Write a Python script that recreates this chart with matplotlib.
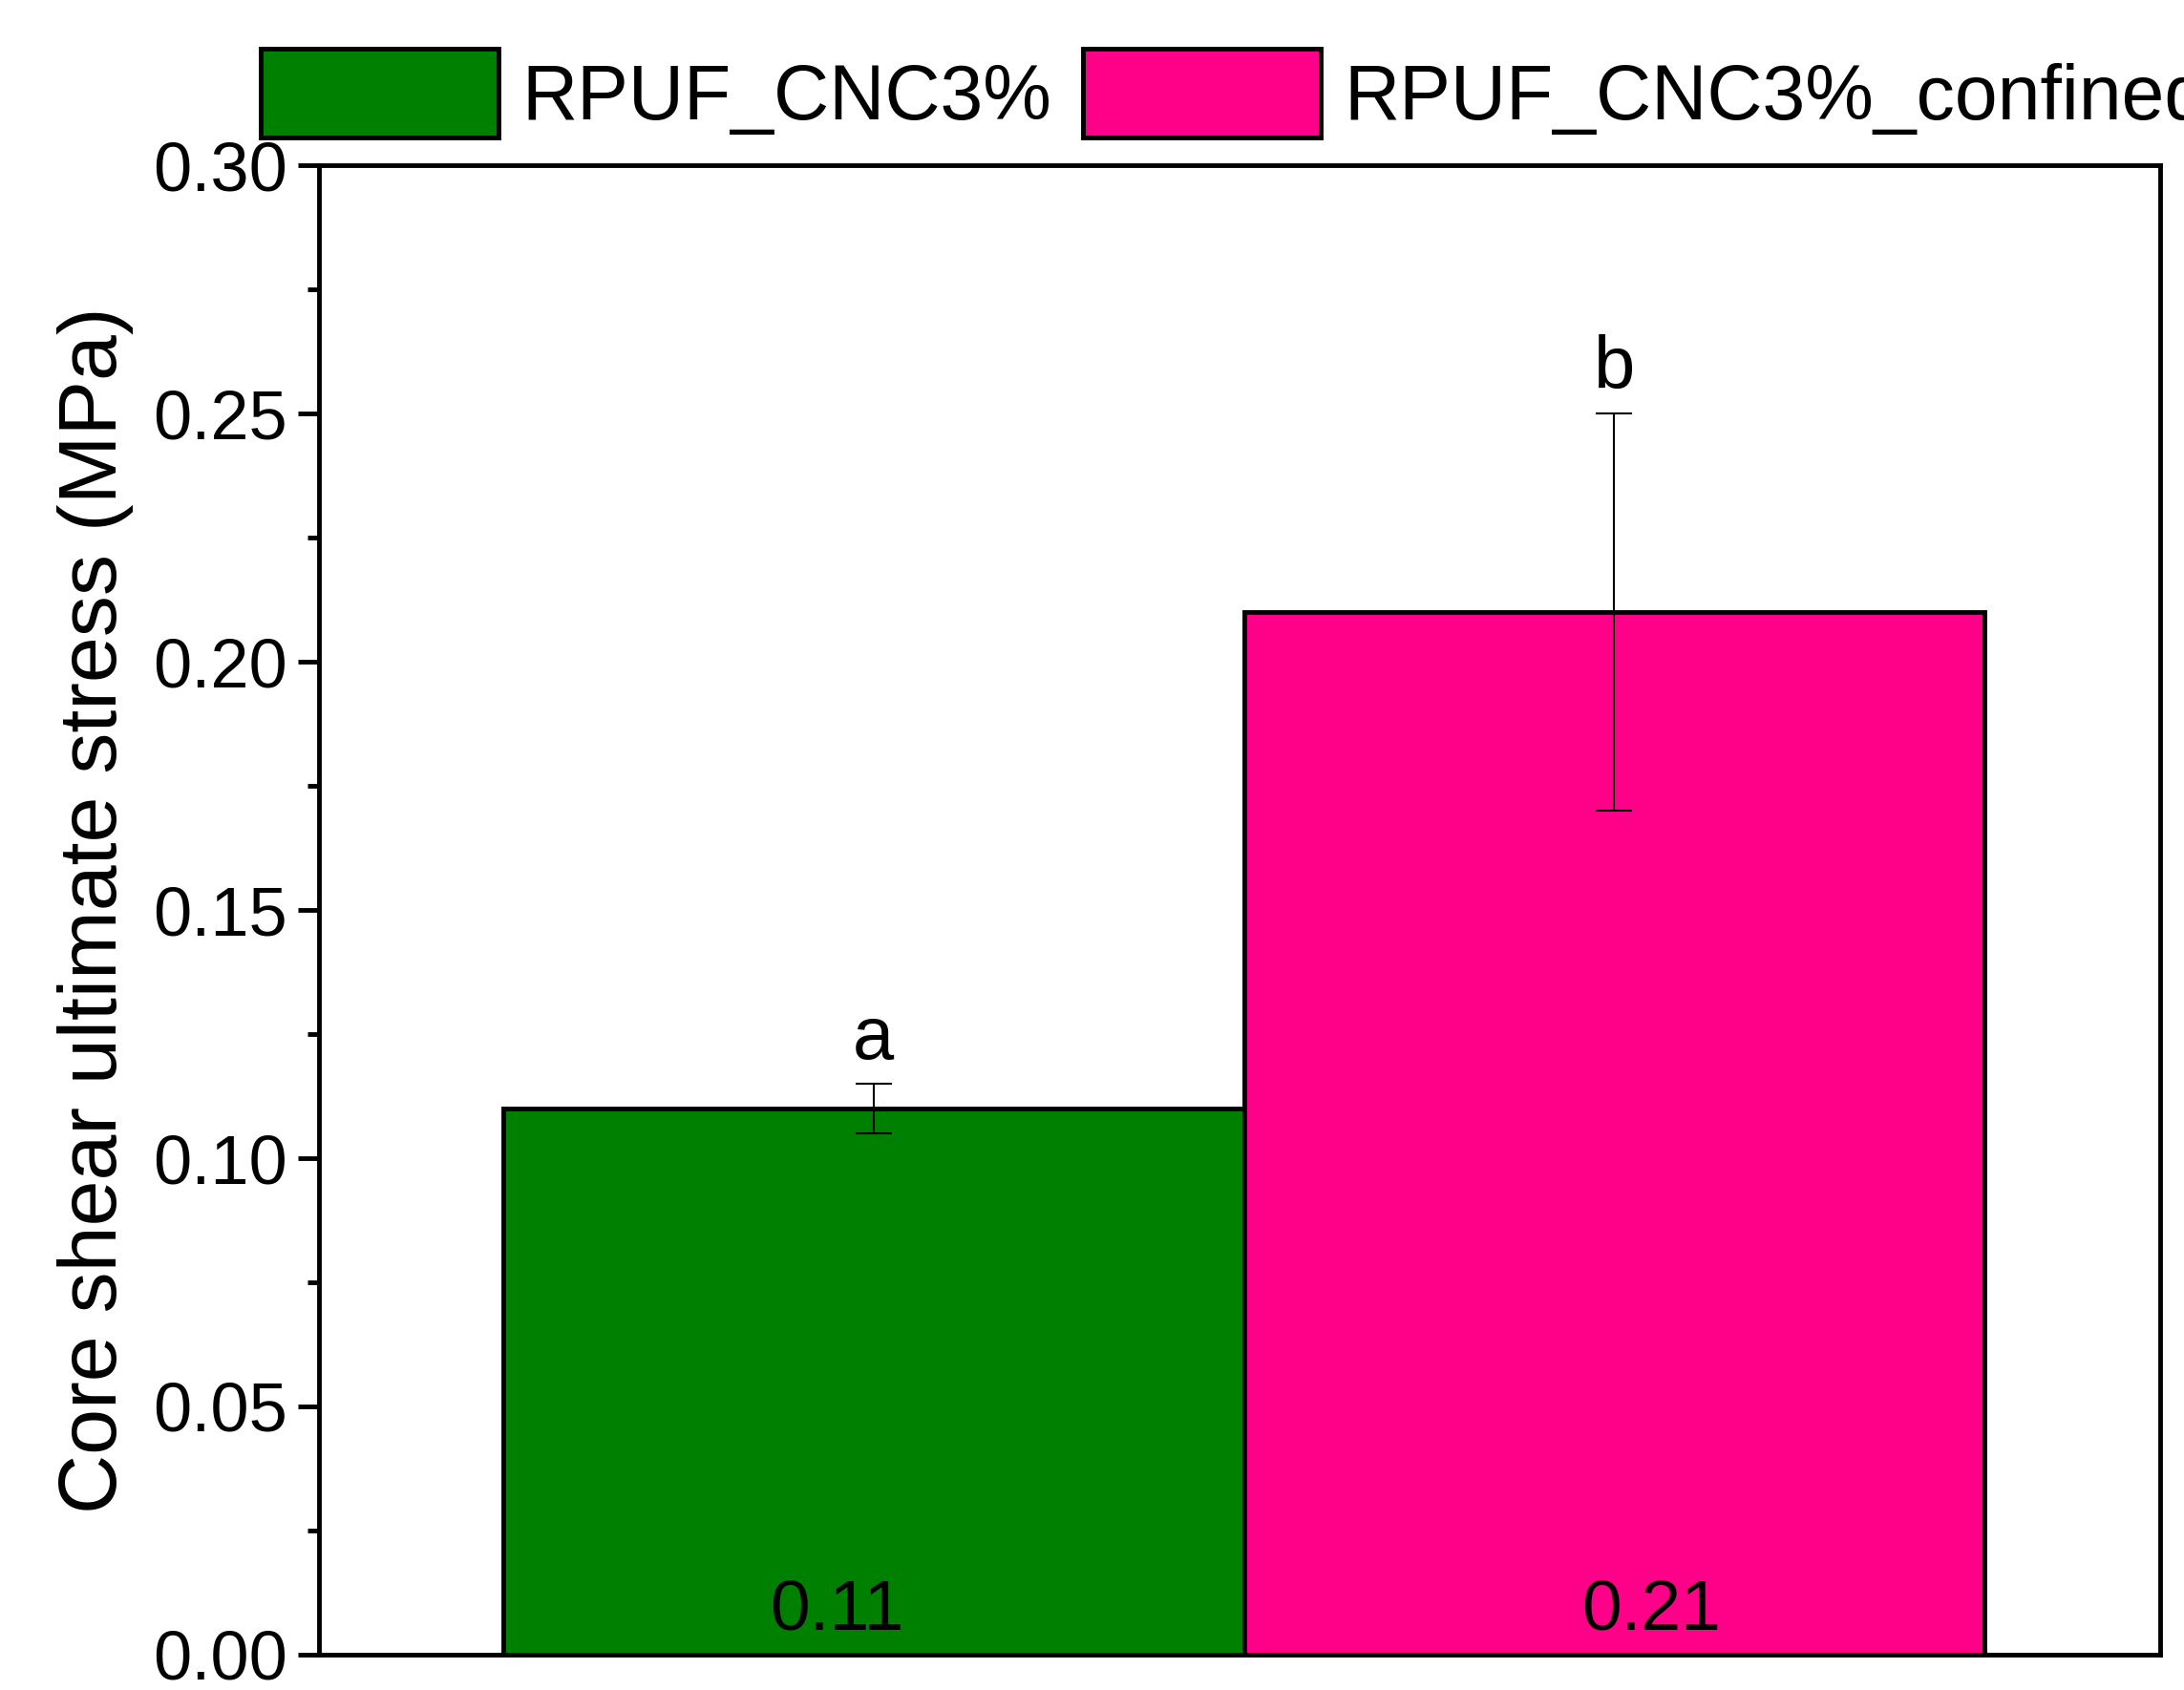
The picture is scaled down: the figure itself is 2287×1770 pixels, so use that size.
import matplotlib
matplotlib.use('Agg')
import matplotlib.pyplot as plt
from matplotlib.patches import Patch
from matplotlib.ticker import MultipleLocator

plt.rcParams['font.family'] = ['Liberation Sans', 'DejaVu Sans']

names = ['RPUF_CNC3%', 'RPUF_CNC3%_confined']
values = [0.11, 0.21]
err_lo = [0.005, 0.04]
err_hi = [0.005, 0.04]
letters = ['a', 'b']
colors = ['#008000', '#FF0088']

fig = plt.figure(figsize=(22.87, 17.7), dpi=100)
ax = fig.add_axes([0.146, 0.021, 0.843, 0.881])
xs = [1, 2]
ax.bar(xs, values, width=1.0, color=colors, edgecolor='black', linewidth=3.5)
ax.errorbar(xs, values, yerr=[err_lo, err_hi], fmt='none', ecolor='black',
            elinewidth=1.5, capsize=14, capthick=1.5)
for x, v, hi, l in zip(xs, values, err_hi, letters):
    ax.text(x, v + hi + 0.002, l, ha='center', va='bottom', fontsize=56)
for x, v, dx in zip(xs, values, [-0.05, 0.05]):
    ax.text(x + dx, 0.002, f'{v:.2f}', ha='center', va='bottom', fontsize=54)

ax.set_xlim(0.251, 2.737)
ax.set_ylim(0, 0.30)
ax.yaxis.set_minor_locator(MultipleLocator(0.025))
ticks = [0, 0.05, 0.10, 0.15, 0.20, 0.25, 0.30]
ax.set_yticks(ticks)
ax.set_yticklabels([f'{t:.2f}' for t in ticks])
ax.set_xticks([])
ax.tick_params(axis='y', which='major', length=16, width=3.5, labelsize=52, pad=8)
ax.tick_params(axis='y', which='minor', length=9, width=3.5)
for s in ax.spines.values():
    s.set_linewidth(3.5)
ax.set_ylabel('Core shear ultimate stress (MPa)', fontsize=62, labelpad=14)

handles = [Patch(facecolor=c, edgecolor='black', linewidth=3.5) for c in colors]
fig.legend(handles, names, loc='upper center', bbox_to_anchor=(0.565, 1.012), ncol=2,
           frameon=False, fontsize=58, handlelength=3.1, handleheight=1.4,
           columnspacing=0.4, handletextpad=0.3)

fig.savefig('out.png', dpi=100)
